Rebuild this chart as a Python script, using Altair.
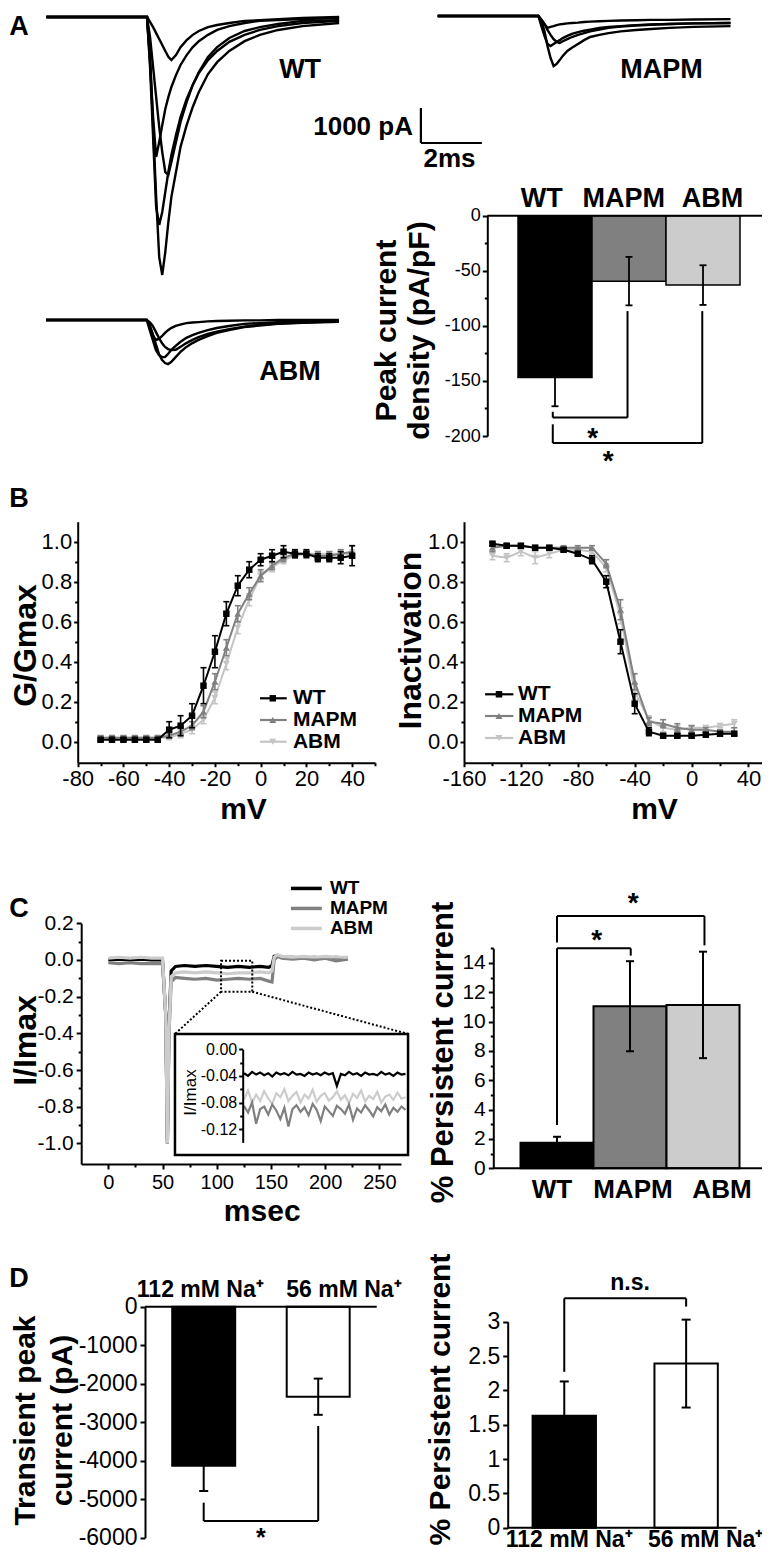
import altair as alt
import pandas as pd

FONT = "Liberation Sans"
W, H, M = 754, 1545, 8

# ====================== DATA ======================
# Panel A: example Na+ current traces (time in ms, current in pA)
trace_t = [0, 3.3, 3.4, 3.5, 3.6, 3.7, 3.8, 3.9, 4.0, 4.1, 4.25, 4.4, 4.6,
           4.8, 5.0, 5.3, 5.6, 6.0, 6.5, 7.0, 7.6, 8.4, 9.6]
wt_traces = [
    [0, 0, -1140, -3140, -5140, -6860, -7370, -6710, -5860, -5140, -4430, -3710, -3090, -2570, -2140, -1630, -1290, -970, -690, -510, -370, -260, -170],
    [0, 0, -1430, -3430, -5430, -5940, -5570, -5000, -4430, -3940, -3370, -2860, -2340, -1940, -1600, -1230, -970, -710, -510, -370, -260, -170, -110],
    [0, 0, -570, -1430, -2290, -3140, -3860, -4430, -4510, -4140, -3570, -3000, -2430, -1940, -1570, -1140, -860, -600, -400, -290, -200, -110, -90],
    [0, 0, -1290, -2860, -4000, -3570, -3090, -2630, -2290, -2000, -1660, -1370, -1090, -860, -690, -510, -370, -260, -170, -110, -90, -60, -30],
    [0, 0, -140, -290, -460, -630, -800, -970, -1140, -1230, -1090, -860, -660, -510, -400, -290, -230, -170, -110, -90, -60, -30, 0],
]
mapm_traces = [
    [0, 0, -140, -430, -860, -1200, -1430, -1370, -1260, -1140, -1000, -910, -800, -690, -600, -540, -490, -440, -400, -370, -340, -310, -290],
    [0, 0, -290, -570, -800, -860, -800, -740, -690, -630, -570, -510, -460, -420, -390, -340, -310, -290, -260, -240, -230, -210, -200],
    [0, 0, -110, -230, -400, -540, -660, -740, -770, -720, -660, -600, -540, -490, -440, -390, -340, -300, -270, -250, -230, -210, -200],
    [0, 0, -110, -230, -340, -310, -290, -260, -240, -230, -210, -200, -190, -170, -160, -150, -140, -130, -120, -110, -110, -100, -90],
]
abm_traces = [
    [0, 0, -140, -400, -690, -970, -1140, -1230, -1260, -1200, -1060, -920, -770, -660, -570, -460, -370, -290, -200, -160, -110, -80, -50],
    [0, 0, -290, -570, -860, -1000, -1060, -1060, -970, -860, -740, -630, -510, -430, -370, -290, -230, -170, -110, -90, -60, -40, -30],
    [0, 0, -60, -170, -340, -510, -660, -770, -830, -860, -850, -770, -660, -570, -490, -400, -330, -260, -190, -140, -100, -70, -40],
    [0, 0, -200, -430, -570, -540, -460, -370, -290, -230, -170, -130, -90, -70, -60, -40, -30, -20, -10, -10, 0, 0, 0],
]
scale_bar_pA = 1000
scale_bar_ms = 2

groups = ["WT", "MAPM", "ABM"]
group_colors = ["#000000", "#808080", "#cccccc"]
peak_density = [-147, -59.4, -63]
peak_density_err = [26, 22, 18]

# Panel B: activation (G/Gmax) and steady-state inactivation
act_mv = [-70, -65, -60, -55, -50, -45, -40, -35, -30, -25, -20, -15, -10, -5, 0, 5, 10, 15, 20, 25, 30, 35, 40]
act_wt = [0.01, 0.01, 0.01, 0.01, 0.01, 0.01, 0.06, 0.08, 0.13, 0.28, 0.45, 0.64, 0.78, 0.86, 0.91, 0.93, 0.95, 0.94, 0.94, 0.92, 0.92, 0.92, 0.93]
act_wt_err = [0.01, 0.01, 0.01, 0.01, 0.01, 0.01, 0.04, 0.05, 0.06, 0.09, 0.08, 0.06, 0.05, 0.04, 0.03, 0.03, 0.03, 0.02, 0.02, 0.02, 0.02, 0.03, 0.05]
act_mapm = [0.02, 0.02, 0.02, 0.02, 0.02, 0.02, 0.03, 0.05, 0.08, 0.15, 0.30, 0.47, 0.64, 0.74, 0.83, 0.88, 0.92, 0.94, 0.94, 0.93, 0.93, 0.94, 0.95]
act_mapm_err = [0.01, 0.01, 0.01, 0.01, 0.01, 0.01, 0.01, 0.02, 0.02, 0.03, 0.04, 0.04, 0.04, 0.03, 0.03, 0.02, 0.02, 0.02, 0.01, 0.02, 0.02, 0.02, 0.03]
act_abm = [0.02, 0.02, 0.02, 0.02, 0.02, 0.02, 0.02, 0.04, 0.06, 0.11, 0.22, 0.39, 0.57, 0.71, 0.83, 0.87, 0.91, 0.93, 0.94, 0.94, 0.94, 0.94, 0.94]
act_abm_err = [0.01, 0.01, 0.01, 0.01, 0.01, 0.01, 0.01, 0.02, 0.02, 0.02, 0.03, 0.03, 0.03, 0.03, 0.02, 0.02, 0.02, 0.01, 0.01, 0.01, 0.01, 0.02, 0.02]

inact_mv = [-140, -130, -120, -110, -100, -90, -80, -70, -60, -50, -40, -30, -20, -10, 0, 10, 20, 30]
inact_wt = [0.99, 0.98, 0.98, 0.97, 0.97, 0.96, 0.94, 0.91, 0.80, 0.50, 0.19, 0.05, 0.03, 0.03, 0.03, 0.035, 0.04, 0.04]
inact_wt_err = [0.01, 0.01, 0.01, 0.01, 0.01, 0.01, 0.01, 0.02, 0.03, 0.06, 0.05, 0.02, 0.01, 0.01, 0.01, 0.01, 0.01, 0.01]
inact_mapm = [0.97, 0.98, 0.98, 0.97, 0.97, 0.97, 0.97, 0.97, 0.89, 0.66, 0.30, 0.10, 0.09, 0.07, 0.06, 0.06, 0.05, 0.05]
inact_mapm_err = [0.02, 0.01, 0.01, 0.01, 0.01, 0.01, 0.01, 0.01, 0.02, 0.05, 0.04, 0.02, 0.02, 0.02, 0.02, 0.01, 0.01, 0.02]
inact_abm = [0.93, 0.92, 0.95, 0.92, 0.94, 0.96, 0.96, 0.95, 0.87, 0.63, 0.25, 0.11, 0.07, 0.06, 0.07, 0.07, 0.08, 0.09]
inact_abm_err = [0.02, 0.02, 0.02, 0.03, 0.02, 0.01, 0.01, 0.01, 0.02, 0.04, 0.04, 0.02, 0.02, 0.02, 0.01, 0.01, 0.01, 0.02]

# Panel C: normalized persistent current traces (msec, I/Imax)
c_t = [0, 10, 20, 30, 40, 50, 53, 54.5, 56, 58, 62, 70, 80, 90, 100, 110, 120, 130, 140, 148,
       151, 153, 156, 160, 170, 180, 190, 200, 210, 221]
c_wt = [0.0, 0.005, 0.0, 0.005, 0.0, 0.0, -0.3, -1.0, -0.35, -0.06, -0.035, -0.03, -0.035, -0.03, -0.035,
        -0.04, -0.035, -0.04, -0.035, -0.04, -0.03, 0.02, 0.025, 0.015, 0.015, 0.01, 0.015, 0.01, 0.015, 0.01]
c_mapm = [-0.015, -0.02, -0.015, -0.02, -0.02, -0.02, -0.3, -0.98, -0.4, -0.12, -0.095, -0.1, -0.105, -0.1, -0.11,
          -0.105, -0.1, -0.105, -0.1, -0.115, -0.12, 0.0, 0.02, 0.01, 0.005, 0.01, 0.0, 0.01, -0.005, 0.005]
c_abm = [0.01, 0.015, 0.01, 0.015, 0.01, 0.01, -0.3, -1.0, -0.38, -0.09, -0.07, -0.065, -0.07, -0.065, -0.07,
         -0.075, -0.07, -0.07, -0.065, -0.07, -0.06, 0.015, 0.03, 0.02, 0.015, 0.02, 0.015, 0.02, 0.015, 0.015]
inset_wt = [-0.036, -0.040, -0.034, -0.038, -0.035, -0.039, -0.036, -0.041, -0.035, -0.038, -0.036, -0.039, -0.034, -0.038,
            -0.037, -0.040, -0.035, -0.038, -0.036, -0.039, -0.035, -0.038, -0.036, -0.055, -0.037, -0.039, -0.034, -0.038,
            -0.036, -0.040, -0.035, -0.038, -0.037, -0.039, -0.034, -0.038, -0.036, -0.040, -0.035, -0.038, -0.037]
inset_abm = [-0.075, -0.062, -0.080, -0.068, -0.078, -0.063, -0.074, -0.082, -0.066, -0.072, -0.060, -0.078, -0.070, -0.064,
             -0.080, -0.068, -0.074, -0.061, -0.079, -0.070, -0.066, -0.077, -0.072, -0.063, -0.076, -0.069, -0.081, -0.067,
             -0.073, -0.062, -0.078, -0.070, -0.075, -0.064, -0.080, -0.071, -0.068, -0.076, -0.065, -0.074, -0.072]
inset_mapm = [-0.085, -0.095, -0.080, -0.112, -0.090, -0.086, -0.098, -0.083, -0.092, -0.105, -0.088, -0.116, -0.090, -0.084,
              -0.094, -0.087, -0.099, -0.082, -0.091, -0.108, -0.086, -0.093, -0.100, -0.085, -0.090, -0.097, -0.083, -0.106,
              -0.089, -0.095, -0.084, -0.092, -0.101, -0.087, -0.093, -0.083, -0.098, -0.088, -0.094, -0.086, -0.091]
persistent = [1.74, 11.05, 11.14]
persistent_err = [0.41, 3.07, 3.63]

# Panel D: sodium substitution
na_labels = ["112 mM Na\u207a", "56 mM Na\u207a"]
na_colors = ["#000000", "#ffffff"]
transient_peak = [-4130, -2338]
transient_peak_err = [657, 470]
na_persistent = [1.63, 2.39]
na_persistent_err = [0.50, 0.64]

# ====================== HELPERS ======================
L = []


def sc(d0, d1, p0, p1):
    return alt.Scale(domain=[d0, d1], range=[p0 - M, p1 - M], nice=False, zero=False)


def X(f, s, axis=None):
    return alt.X(f, type="quantitative", scale=s, axis=axis)


def Y(f, s, axis=None):
    return alt.Y(f, type="quantitative", scale=s, axis=axis)


AXBASE = dict(grid=False, labelFlush=False, labelOverlap=False, zindex=1)


def left_axis(ax, values, fs=21, fmt=None, tick=5, pad=3, labels=True, domain=True,
              title=None, tx=0, ty=0, tfs=32, tlh=None, tw="bold"):
    kw = dict(AXBASE, orient="left", offset=M - ax, values=values, labelFontSize=fs,
              tickSize=tick, labelPadding=pad, labels=labels, domain=domain)
    if fmt:
        kw["format"] = fmt
    if title is None:
        kw["title"] = None
    else:
        kw.update(title=title, titleX=tx - ax, titleY=ty - M, titleFontSize=tfs, titleFontWeight=tw,
                  titleAngle=270, titleAlign="center", titleBaseline="middle")
        if tlh:
            kw["titleLineHeight"] = tlh
    return alt.Axis(**kw)


def bottom_axis(ay, values, fs=21, fmt=None, tick=5, pad=3, labels=True, domain=True,
                title=None, tx=0, ty=0, tfs=30):
    kw = dict(AXBASE, orient="bottom", offset=ay - M - H, values=values, labelFontSize=fs,
              tickSize=tick, labelPadding=pad, labels=labels, domain=domain)
    if fmt:
        kw["format"] = fmt
    if title is None:
        kw["title"] = None
    else:
        kw.update(title=title, titleX=tx - M, titleY=ty - ay, titleFontSize=tfs, titleFontWeight="bold",
                  titleAngle=0, titleAlign="center", titleBaseline="alphabetic")
    return alt.Axis(**kw)


def axis_layer(channel, scale, axis, values):
    df = pd.DataFrame({"v": values})
    enc = Y("v", scale, axis) if channel == "y" else X("v", scale, axis)
    return alt.Chart(df).mark_point(opacity=0).encode(**{channel: enc})


def text_layer(rows, sx, sy, size, weight="bold", align="center", baseline="alphabetic"):
    df = pd.DataFrame(rows)
    return alt.Chart(df).mark_text(fontSize=size, fontWeight=weight, align=align, baseline=baseline,
                                   font=FONT, color="black").encode(
        x=X("x", sx), y=Y("y", sy), text=alt.Text("label:N"))


def rule_layer(rows, sx, sy, width=2.0, color="black", dash=None):
    df = pd.DataFrame(rows)
    kw = dict(color=color, strokeWidth=width)
    if dash:
        kw["strokeDash"] = dash
    return alt.Chart(df).mark_rule(**kw).encode(x=X("x", sx), x2="x2", y=Y("y", sy), y2="y2")


def bracket(xa, xb, ya, yh, yb):
    return [dict(x=xa, x2=xa, y=ya, y2=yh), dict(x=xa, x2=xb, y=yh, y2=yh), dict(x=xb, x2=xb, y=yh, y2=yb)]


def errbar_layers(df, xf, sx, sy, color="black", width=1.8, cap=7):
    return [
        alt.Chart(df).mark_rule(color=color, strokeWidth=width).encode(x=X(xf, sx), y=Y("lo", sy), y2="hi"),
        alt.Chart(df).mark_tick(orient="horizontal", color=color, size=cap, thickness=width, opacity=1).encode(
            x=X(xf, sx), y=Y("lo", sy)),
        alt.Chart(df).mark_tick(orient="horizontal", color=color, size=cap, thickness=width, opacity=1).encode(
            x=X(xf, sx), y=Y("hi", sy)),
    ]


def bar_layers(vals, errs, fills, sx, sy, hw, cap, sw=1.5, ew=1.8):
    df = pd.DataFrame({"i": list(range(len(vals))), "v": vals, "e": errs, "fill": fills})
    df["x0"] = df["i"] - hw
    df["x1"] = df["i"] + hw
    df["b"] = 0.0
    df["lo"] = df["v"] - df["e"]
    df["hi"] = df["v"] + df["e"]
    out = [alt.Chart(df).mark_rect(stroke="black", strokeWidth=sw, opacity=1).encode(
        x=X("x0", sx), x2="x1", y=Y("b", sy), y2="v", fill=alt.Fill("fill:N", scale=None))]
    out += errbar_layers(df, "i", sx, sy, width=ew, cap=cap)
    return out


def trace_frame(traces):
    rows = [dict(t=t, v=v, k=k) for k, tr in enumerate(traces) for t, v in zip(trace_t, tr)]
    return pd.DataFrame(rows)


# ====================== PANEL A ======================
trace_panels = [
    (wt_traces, sc(0, 9.6, 46.35, 339.15), sc(-7500, 0, 279.5, 17), "WT", 8.32, -1743),
    (mapm_traces, sc(0, 9.6, 437.7, 730.5), sc(-7500, 0, 278.5, 16), "MAPM", 7.34, -1780),
    (abm_traces, sc(0, 9.6, 46.05, 338.85), sc(-7500, 0, 582.5, 320), "ABM", 8.0, -1714),
]
for traces, sx, sy, lab, lx, ly in trace_panels:
    L.append(alt.Chart(trace_frame(traces)).mark_line(color="black", strokeWidth=2.4).encode(
        x=X("t", sx), y=Y("v", sy), detail="k:N"))
    L.append(text_layer({"x": [lx], "y": [ly], "label": [lab]}, sx, sy, 27))

sWTx, sWTy = trace_panels[0][1], trace_panels[0][2]
sb_t, sb_y = 12.28, -3600
L.append(rule_layer([dict(x=sb_t, x2=sb_t, y=sb_y + scale_bar_pA, y2=sb_y),
                     dict(x=sb_t, x2=sb_t + scale_bar_ms, y=sb_y, y2=sb_y)], sWTx, sWTy, width=2.2))
L.append(text_layer({"x": [sb_t - 0.26], "y": [-3371], "label": [f"{scale_bar_pA} pA"]}, sWTx, sWTy, 26, align="right"))
L.append(text_layer({"x": [sb_t + 0.94], "y": [-4286], "label": [f"{scale_bar_ms}ms"]}, sWTx, sWTy, 26))

# bar chart of peak current density
sAx, sAy = sc(-1, 3, 481, 777), sc(-200, 0, 436, 215.7)
L += bar_layers(peak_density, peak_density_err, group_colors, sAx, sAy, 0.5, 7)
L.append(rule_layer([dict(x=-0.915, x2=2.838, y=0, y2=0)], sAx, sAy, width=2))
L.append(axis_layer("y", sAy, left_axis(487.3, [-200, -150, -100, -50, 0], fs=18, fmt="d", tick=5, pad=2,
                                        title=["Peak current", "density (pA/pF)"], tx=386, ty=330,
                                        tfs=30, tlh=33), [-200, 0]))
L.append(axis_layer("y", sAy, left_axis(487.3, [-175, -125, -75, -25], tick=3, labels=False, domain=False), [-200, 0]))
L.append(text_layer({"x": [-0.18, 0.93, 2.13], "y": [8.2] * 3, "label": groups}, sAx, sAy, 27))
L.append(rule_layer(bracket(-0.03, 0.98, -178, -183.3, -86.6) + bracket(-0.03, 1.99, -189.4, -206.4, -86.6),
                    sAx, sAy, width=2))
L.append(text_layer({"x": [0.51, 0.72], "y": [-202.6, -223.9], "label": ["*", "*"]}, sAx, sAy, 28,
                    baseline="middle"))

# ====================== PANEL B ======================
b_panels = [
    (act_mv, [("ABM", act_abm, act_abm_err), ("MAPM", act_mapm, act_mapm_err), ("WT", act_wt, act_wt_err)],
     sc(-80, 50, 77.7, 375), 77.7, [-80, -60, -40, -20, 0, 20, 40], [-70, -50, -30, -10, 10, 30, 50],
     "G/Gmax", 26, 645, 243, (-0.3, 11.4, 5.3, 14.1), [0.217, 0.1085, 0.0]),
    (inact_mv, [("ABM", inact_abm, inact_abm_err), ("MAPM", inact_mapm, inact_mapm_err), ("WT", inact_wt, inact_wt_err)],
     sc(-160, 50, 464, 762.7), 464, [-160, -120, -80, -40, 0, 40], [-140, -100, -60, -20, 20],
     "Inactivation", 410, 640, 654, (-145.2, -125.3, -135.4, -122), [0.237, 0.1285, 0.0185]),
]
series_style = {"WT": ("#000000", "square", 42), "MAPM": ("#808080", "triangle-up", 50),
                "ABM": ("#c4c4c4", "triangle-down", 50)}
for mv, series, sx, ax_x, xt, xminor, ytitle, ytx, yty, mvx, legx, legy in b_panels:
    sy = sc(-0.105, 1.1, 762.7, 521.7)
    for name, vals, errs in series:
        col, shp, size = series_style[name]
        df = pd.DataFrame({"mv": mv, "v": vals, "e": errs})
        df["lo"] = df["v"] - df["e"]
        df["hi"] = df["v"] + df["e"]
        L += errbar_layers(df, "mv", sx, sy, color=col, width=1.6, cap=6)
        L.append(alt.Chart(df).mark_line(color=col, strokeWidth=2).encode(x=X("mv", sx), y=Y("v", sy)))
        L.append(alt.Chart(df).mark_point(shape=shp, filled=True, size=size, color=col, opacity=1).encode(
            x=X("mv", sx), y=Y("v", sy)))
    L.append(axis_layer("y", sy, left_axis(ax_x, [0, 0.2, 0.4, 0.6, 0.8, 1.0], fs=22, fmt=".1f", tick=4, pad=2,
                                           title=ytitle, tx=ytx, ty=yty, tfs=32), [0, 1]))
    L.append(axis_layer("y", sy, left_axis(ax_x, [0.1, 0.3, 0.5, 0.7, 0.9], tick=3, labels=False, domain=False), [0, 1]))
    L.append(axis_layer("x", sx, bottom_axis(762.7, xt, fs=22, fmt="d", tick=4, pad=2, title="mV", tx=mvx, ty=818,
                                             tfs=30), xt))
    L.append(axis_layer("x", sx, bottom_axis(762.7, xminor, tick=3, labels=False, domain=False), xminor))
    # legend
    for name, yy in zip(groups, legy):
        col, shp, size = series_style[name]
        L.append(rule_layer([dict(x=legx[0], x2=legx[1], y=yy, y2=yy)], sx, sy, width=2.2, color=col))
        L.append(alt.Chart(pd.DataFrame({"x": [legx[2]], "y": [yy]})).mark_point(
            shape=shp, filled=True, size=size, color=col, opacity=1).encode(x=X("x", sx), y=Y("y", sy)))
        L.append(text_layer({"x": [legx[3]], "y": [yy], "label": [name]}, sx, sy, 21, align="left",
                            baseline="middle"))

# ====================== PANEL C (traces) ======================
sCx, sCy = sc(-25, 270, 81.2, 401.0), sc(-1.112, 0.2, 1164.05, 923.3)
for name, vals in [("WT", c_wt), ("MAPM", c_mapm), ("ABM", c_abm)]:
    col = group_colors[groups.index(name)]
    L.append(alt.Chart(pd.DataFrame({"t": c_t, "v": vals})).mark_line(color=col, strokeWidth=3.2).encode(
        x=X("t", sCx), y=Y("v", sCy)))
# dotted zoom box and connectors
L.append(alt.Chart(pd.DataFrame({"x": [104], "x2": [132.8], "y": [-0.004], "y2": [-0.173]})).mark_rect(
    fillOpacity=0, stroke="black", strokeWidth=2, strokeDash=[2, 2]).encode(
    x=X("x", sCx), x2="x2", y=Y("y", sCy), y2="y2"))
L.append(rule_layer([dict(x=104, x2=61.5, y=-0.173, y2=-0.403), dict(x=132.8, x2=276.5, y=-0.173, y2=-0.403)],
                    sCx, sCy, width=2, dash=[2, 2]))
L.append(alt.Chart(pd.DataFrame({"x": [61.5], "x2": [276.5], "y": [-0.403], "y2": [-1.063]})).mark_rect(
    fill="white", stroke="black", strokeWidth=2.5).encode(x=X("x", sCx), x2="x2", y=Y("y", sCy), y2="y2"))
# inset traces
sIx, sIy = sc(0, 40, 244, 405.5), sc(-0.14, 0.0, 1142.4, 1049.3)
for name, vals in [("ABM", inset_abm), ("MAPM", inset_mapm), ("WT", inset_wt)]:
    col = group_colors[groups.index(name)]
    L.append(alt.Chart(pd.DataFrame({"i": list(range(len(vals))), "v": vals})).mark_line(
        color=col, strokeWidth=2.2).encode(x=X("i", sIx), y=Y("v", sIy)))
L.append(axis_layer("y", sIy, left_axis(242.7, [0, -0.04, -0.08, -0.12], fs=16, fmt=".2f", tick=4, pad=2,
                                        title="I/Imax", tx=190, ty=1092, tfs=17, tw="normal"), [-0.12, 0]))
L.append(axis_layer("y", sIy, left_axis(242.7, [-0.02, -0.06, -0.10], tick=3, labels=False, domain=False), [-0.1, 0]))
# main axes
L.append(axis_layer("y", sCy, left_axis(81.2, [0.2, 0.0, -0.2, -0.4, -0.6, -0.8, -1.0], fs=21, fmt=".1f", tick=5,
                                        pad=3, title="I/Imax", tx=26, ty=1040, tfs=32), [-1, 0.2]))
L.append(axis_layer("y", sCy, left_axis(81.2, [0.1, -0.1, -0.3, -0.5, -0.7, -0.9], tick=3, labels=False,
                                        domain=False), [-1, 0.2]))
L.append(axis_layer("x", sCx, bottom_axis(1164, [0, 50, 100, 150, 200, 250], fs=20, fmt="d", tick=5, pad=3,
                                          title="msec", tx=261.7, ty=1220, tfs=30), [0, 250]))
L.append(axis_layer("x", sCx, bottom_axis(1164, [25, 75, 125, 175, 225], tick=3, labels=False, domain=False), [0, 250]))
# legend
for name, yy in zip(groups, [0.39, 0.281, 0.172]):
    col = group_colors[groups.index(name)]
    L.append(rule_layer([dict(x=168.5, x2=196.9, y=yy, y2=yy)], sCx, sCy, width=3.5, color=col))
    L.append(text_layer({"x": [204.4], "y": [yy], "label": [name]}, sCx, sCy, 19, align="left", baseline="middle"))

# ====================== PANEL C (bars) ======================
sCRx, sCRy = sc(-1, 3, 484, 776), sc(0, 15, 1168.3, 948.3)
L += bar_layers(persistent, persistent_err, group_colors, sCRx, sCRy, 0.5, 8, sw=2, ew=2)
L.append(rule_layer([dict(x=-0.873, x2=2.89, y=0, y2=0)], sCRx, sCRy, width=2))
L.append(axis_layer("y", sCRy, left_axis(493.3, [0, 2, 4, 6, 8, 10, 12, 14], fs=21, fmt="d", tick=5, pad=3,
                                         title="% Persistent current", tx=443, ty=1052, tfs=31), [0, 14]))
L.append(axis_layer("y", sCRy, left_axis(493.3, [1, 3, 5, 7, 9, 11, 13, 15], tick=3, labels=False, domain=False), [0, 14]))
L.append(text_layer({"x": [-0.07, 1.04, 2.26], "y": [-2.04] * 3, "label": groups}, sCRx, sCRy, 26))
L.append(rule_layer(bracket(0, 1.01, 2.95, 15.0, 14.5) + bracket(0, 2.02, 15.4, 17.2, 15.2), sCRx, sCRy, width=2))
L.append(text_layer({"x": [0.544, 1.045], "y": [15.49, 18.0], "label": ["*", "*"]}, sCRx, sCRy, 28,
                    baseline="middle"))

# ====================== PANEL D ======================
sDLx, sDLy = sc(-1, 2, 89.2, 432.7), sc(-6000, 0, 1537.7, 1306.7)
L += bar_layers(transient_peak, transient_peak_err, na_colors, sDLx, sDLy, 0.275, 9, sw=2, ew=2)
L.append(rule_layer([dict(x=-0.513, x2=1.511, y=0, y2=0)], sDLx, sDLy, width=2))
L.append(axis_layer("y", sDLy, left_axis(145, [0, -1000, -2000, -3000, -4000, -5000, -6000], fs=23, fmt="d", tick=5,
                                         pad=3, title=["Transient peak", "current (pA)"], tx=25, ty=1420,
                                         tfs=30, tlh=37), [-6000, 0]))
L.append(text_layer({"x": [-0.03, 1.225], "y": [244, 244], "label": na_labels}, sDLx, sDLy, 23))
L.append(rule_layer(bracket(0, 1.0, -5091, -5566, -3100), sDLx, sDLy, width=2))
L.append(text_layer({"x": [0.5], "y": [-6008], "label": ["*"]}, sDLx, sDLy, 25, baseline="middle"))

sDRx, sDRy = sc(-1, 2, 442.4, 808), sc(0, 3, 1527.7, 1321.7)
L += bar_layers(na_persistent, na_persistent_err, na_colors, sDRx, sDRy, 0.26, 9, sw=2, ew=2)
L.append(rule_layer([dict(x=-0.464, x2=1.414, y=0, y2=0)], sDRx, sDRy, width=2))
L.append(axis_layer("y", sDRy, left_axis(507.7, [0, 0.5, 1, 1.5, 2, 2.5, 3], fs=23, fmt="~g", tick=5, pad=3,
                                         title="% Persistent current", tx=440, ty=1399, tfs=30), [0, 3]))
L.append(text_layer({"x": [0.04, 1.16], "y": [-0.281, -0.281], "label": na_labels}, sDRx, sDRy, 23))
L.append(rule_layer(bracket(0, 1.0, 2.27, 3.34, 3.22), sDRx, sDRy, width=2))
L.append(text_layer({"x": [0.54], "y": [3.46], "label": ["n.s."]}, sDRx, sDRy, 23))

# ====================== PANEL LETTERS ======================
sPx, sPy = sc(0, 770, 0, 770), sc(0, 1561, 0, 1561)
L.append(text_layer({"x": [19, 19, 19, 19], "y": [35, 507, 917, 1287], "label": ["A", "B", "C", "D"]},
                    sPx, sPy, 27))

chart = alt.layer(*L).properties(
    width=W, height=H, padding=0, autosize=alt.AutoSizeParams(type="none")
).resolve_scale(x="independent", y="independent")

chart = chart.configure(
    locale={"number": {"decimal": ".", "thousands": ",", "grouping": [3], "currency": ["$", ""], "minus": "-"}}
).configure_view(stroke=None).configure_axis(
    domainColor="black", tickColor="black", labelColor="black", titleColor="black",
    labelFont=FONT, titleFont=FONT, domainWidth=2, tickWidth=2, grid=False
)

chart.save("out.html", embed_options={"renderer": "svg", "actions": False})
